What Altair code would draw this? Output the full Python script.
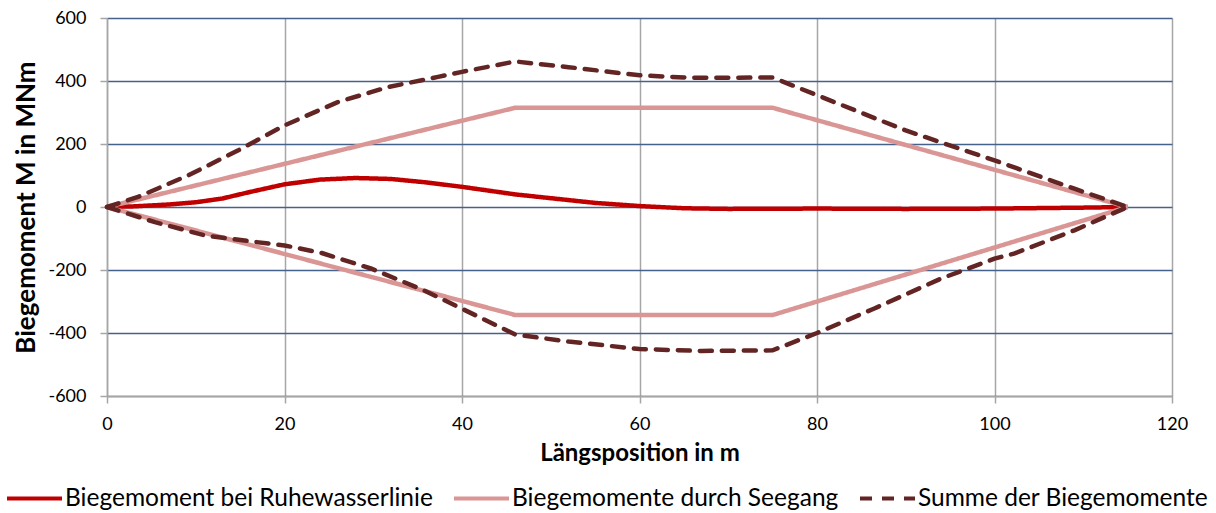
import altair as alt
import pandas as pd

series_names = [
    "Biegemoment bei Ruhewasserlinie",
    "Biegemomente durch Seegang",
    "Summe der Biegemomente",
]
series_colors = ["#C00000", "#D99694", "#632523"]

# Biegemoment bei Ruhewasserlinie
ruhe_x = [0, 3, 7, 10, 13, 16, 20, 24, 28, 32, 36, 40, 46, 50, 55, 60, 65, 70, 80, 90, 100, 110, 115]
ruhe_y = [0, 2, 8, 15, 27, 47, 72, 87, 92, 89, 78, 64, 40, 28, 13, 3, -4, -6, -5, -6, -5, -2, 0]

# Biegemomente durch Seegang (obere / untere Hüllkurve)
see_x = [0, 46, 75, 115]
see_up_y = [0, 315, 315, 0]
see_lo_y = [0, -343, -343, 0]

# Summe der Biegemomente (obere / untere)
sum_up_x = [0, 3.5, 9.2, 14.8, 20, 26, 31.7, 37.3, 40, 46, 52, 60, 66, 75, 80, 90, 100, 109, 115]
sum_up_y = [0, 32, 101, 180, 259, 333, 381, 413, 429, 462, 444, 418, 410, 411, 355, 243, 148, 58, 0]
sum_lo_x = [0, 5.4, 11, 16.7, 20, 24.2, 29.8, 35.5, 40, 46, 52, 60, 67, 75, 80, 86.4, 94, 100, 102.2, 109, 115]
sum_lo_y = [0, -48, -90, -111, -122, -146, -196, -262, -323, -405, -427, -451, -457, -455, -400, -323, -227, -164, -148, -74, 0]

x_ticks = [0, 20, 40, 60, 80, 100, 120]
y_ticks = [-600, -400, -200, 0, 200, 400, 600]

rows = []
def add(name, part, xs, ys):
    for i, (a, b) in enumerate(zip(xs, ys)):
        rows.append({"x": a, "y": b, "series": name, "part": part, "i": i})

add(series_names[0], "a", ruhe_x, ruhe_y)
add(series_names[1], "up", see_x, see_up_y)
add(series_names[1], "lo", see_x, see_lo_y)
add(series_names[2], "up", sum_up_x, sum_up_y)
add(series_names[2], "lo", sum_lo_x, sum_lo_y)
df = pd.DataFrame(rows)

legend_kw = dict(
    title=None,
    orient="none",
    legendX=-102,
    legendY=451,
    direction="horizontal",
    symbolType="stroke",
    symbolSize=3025,
    symbolStrokeWidth=4,
    labelFontSize=24.5,
    labelOffset=1,
    columnPadding=13,
    labelColor="#000000",
    labelLimit=600,
)

color = alt.Color(
    "series:N",
    scale=alt.Scale(domain=series_names, range=series_colors),
    legend=alt.Legend(**legend_kw),
)
dash = alt.StrokeDash(
    "series:N",
    scale=alt.Scale(domain=series_names, range=[[1, 0], [1, 0], [12, 10]]),
    legend=alt.Legend(**legend_kw),
)

x_enc = alt.X(
    "x:Q",
    scale=alt.Scale(domain=[0, 120], nice=False),
    axis=alt.Axis(
        values=x_ticks, title="Längsposition in m", labelExpr="toString(datum.value)",
        labelFlush=False,
        gridColor="#A6A6A6", gridWidth=1.5, domainColor="#A6A6A6", domainWidth=1.5,
        tickColor="#A6A6A6", tickSize=7, tickWidth=1.5,
        labelFontSize=18, labelPadding=12, labelColor="#000000",
        titleFontSize=24, titleFontWeight="bold", titlePadding=8, titleColor="#000000",
    ),
)
y_enc = alt.Y(
    "y:Q",
    scale=alt.Scale(domain=[-600, 600], nice=False),
    axis=alt.Axis(
        values=y_ticks, title="Biegemoment M in MNm", labelExpr="toString(datum.value)",
        labelFlush=False,
        gridColor="#44628C", gridWidth=1.5, domainColor="#A6A6A6", domainWidth=1.5,
        tickColor="#A6A6A6", tickSize=7, tickWidth=1.5,
        labelFontSize=18, labelPadding=14, labelColor="#000000",
        titleFontSize=26, titleFontWeight="bold", titlePadding=8, titleColor="#000000",
    ),
)

layers = []
for k, s in enumerate(series_names):
    mk = alt.Chart(df).transform_filter(alt.datum.series == s)
    if k == 2:
        mk = mk.mark_line(strokeWidth=4.5, strokeCap="round")
    else:
        mk = mk.mark_line(strokeWidth=4.5)
    layers.append(
        mk.encode(x=x_enc, y=y_enc, color=color, strokeDash=dash, detail="part:N", order="i:Q")
    )

chart = (
    alt.layer(*layers)
    .properties(
        width=1065,
        height=378,
        autosize=alt.AutoSizeParams(type="none"),
        padding={"left": 107, "top": 18, "right": 44, "bottom": 117},
        background="#FFFFFF",
    )
    .configure(font="Lato")
    .configure_view(strokeWidth=0)
)

chart.save("out.html", embed_options={"renderer": "svg", "actions": False})
